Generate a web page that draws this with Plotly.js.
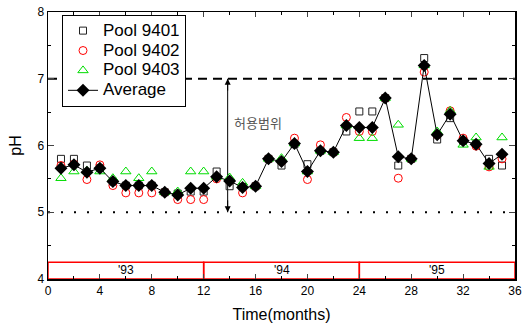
<!DOCTYPE html>
<html><head><meta charset="utf-8">
<script src="https://cdn.plot.ly/plotly-3.0.1.min.js"></script>
<style>html,body{margin:0;padding:0;background:#fff}#c{width:524px;height:329px}</style>
</head><body><div id="c"></div>
<script>
const months = [1,2,3,4,5,6,7,8,9,10,11,12,13,14,15,16,17,18,19,20,21,22,23,24,25,26,27,28,29,30,31,32,33,34,35];
const pool9401 = [5.80,5.80,5.70,5.66,5.46,5.40,5.40,5.40,5.30,5.28,5.31,5.31,5.61,5.39,5.38,5.39,5.80,5.70,6.02,5.72,5.92,5.90,6.21,6.51,6.51,6.71,5.70,5.80,7.31,6.09,6.41,6.07,6.02,5.80,5.70];
const pool9402 = [5.70,5.72,5.49,5.71,5.40,5.29,5.29,5.29,5.30,5.19,5.19,5.19,5.50,5.47,5.29,5.39,5.80,5.76,6.11,5.49,6.01,5.90,6.42,6.21,6.21,6.71,5.51,5.80,7.10,6.16,6.52,6.11,5.99,5.68,5.80];
const pool9403 = [5.51,5.61,5.62,5.61,5.51,5.61,5.51,5.61,5.30,5.31,5.61,5.61,5.53,5.52,5.44,5.39,5.80,5.81,6.03,5.61,5.92,5.90,6.30,6.11,6.11,6.71,6.31,5.80,7.20,6.21,6.52,6.01,6.12,5.68,6.12];
const average = [5.66,5.71,5.60,5.66,5.46,5.40,5.40,5.40,5.30,5.26,5.36,5.36,5.53,5.47,5.37,5.39,5.80,5.76,6.03,5.61,5.92,5.90,6.30,6.27,6.27,6.71,5.83,5.80,7.20,6.16,6.47,6.07,6.02,5.73,5.87];
const seriesNames = ["Pool 9401","Pool 9402","Pool 9403","Average"];
const yearLabels = ["'93","'94","'95"];
const yearStart = [0,12,24];
const yearEnd = [12,24,36];
const upperLimit = 7, lowerLimit = 5;
const rangeLabel = "허용범위";
const arrowX = 13.85;

const font = "Arial, 'Liberation Sans', sans-serif";
const lg = n => '<span style="font-size:17px">' + n + '</span>';
const traces = [
  {x: months, y: pool9401, name: lg(seriesNames[0]), mode: "markers", type: "scatter",
   marker: {symbol: "square-open", size: 7, color: "#222", line: {width: 1}}},
  {x: months, y: pool9402, name: lg(seriesNames[1]), mode: "markers", type: "scatter",
   marker: {symbol: "circle-open", size: 8, color: "#ff0000", line: {width: 1}}},
  {x: months, y: pool9403, name: lg(seriesNames[2]), mode: "markers", type: "scatter",
   marker: {symbol: "triangle-up-open", size: 9, color: "#00dd00", line: {width: 1}}},
  {x: months, y: average, name: lg(seriesNames[3]), mode: "lines+markers", type: "scatter",
   line: {color: "#000", width: 1}, marker: {symbol: "diamond", size: 10, color: "#000"}}
];

const shapes = [
  {type: "line", xref: "x", yref: "y", x0: 0, x1: 36, y0: upperLimit, y1: upperLimit,
   line: {color: "#000", width: 2, dash: "9px,6px"}, layer: "below"},
  {type: "line", xref: "x", yref: "y", x0: 0, x1: 36, y0: lowerLimit, y1: lowerLimit,
   line: {color: "#000", width: 2, dash: "2px,11px"}, layer: "below"},
  {type: "line", xref: "x", yref: "y", x0: arrowX, x1: arrowX, y0: lowerLimit, y1: upperLimit,
   line: {color: "#000", width: 1}, layer: "below"}
];
yearLabels.forEach((lab, i) => {
  shapes.push({type: "rect", xref: "x", yref: "y", x0: yearStart[i], x1: yearEnd[i], y0: 4, y1: 4.25,
    line: {color: "#ff0000", width: 1.5}, fillcolor: "rgba(0,0,0,0)", layer: "below"});
});

const annotations = [
  {x: arrowX, y: upperLimit, ax: arrowX, ay: upperLimit - 0.2, xref: "x", yref: "y", axref: "x", ayref: "y",
   showarrow: true, arrowhead: 2, arrowsize: 1.2, arrowwidth: 1, arrowcolor: "#000", text: ""},
  {x: arrowX, y: lowerLimit, ax: arrowX, ay: lowerLimit + 0.2, xref: "x", yref: "y", axref: "x", ayref: "y",
   showarrow: true, arrowhead: 2, arrowsize: 1.2, arrowwidth: 1, arrowcolor: "#000", text: ""},
  {x: 16.2, y: 6.34, xref: "x", yref: "y", text: rangeLabel, showarrow: false,
   font: {family: "'Noto Sans CJK KR', sans-serif", size: 13, color: "#555"}}
];
yearLabels.forEach((lab, i) => {
  annotations.push({x: (yearStart[i] + yearEnd[i]) / 2, y: 4.13, xref: "x", yref: "y", text: lab,
    showarrow: false, font: {family: font, size: 12, color: "#000"}});
});

const layout = {
  width: 524, height: 329,
  margin: {l: 48, r: 9, t: 12, b: 50},
  paper_bgcolor: "#fff", plot_bgcolor: "#fff",
  font: {family: font, size: 12, color: "#000"},
  showlegend: true,
  legend: {x: 0.03, y: 0.99, xanchor: "left", yanchor: "top", bgcolor: "#fff",
    bordercolor: "#000", borderwidth: 1, font: {family: font, size: 13}, tracegroupgap: 0},
  xaxis: {range: [0, 36], tickvals: [0,4,8,12,16,20,24,28,32,36], ticks: "inside", ticklen: 5,
    minor: {tickvals: [2,6,10,14,18,22,26,30,34], ticks: "inside", ticklen: 3, tickcolor: "#000"},
    showline: true, linecolor: "#000", linewidth: 1.5, mirror: "ticks", showgrid: false, zeroline: false,
    tickfont: {size: 12}, title: {text: "Time(months)", font: {size: 16}, standoff: 12}},
  yaxis: {range: [4, 8], tickvals: [4,5,6,7,8], ticks: "inside", ticklen: 6,
    minor: {tickvals: [4.5,5.5,6.5,7.5], ticks: "inside", ticklen: 3, tickcolor: "#000"},
    showline: true, linecolor: "#000", linewidth: 1.5, mirror: "ticks", showgrid: false, zeroline: false,
    tickfont: {size: 12}, title: {text: "pH", font: {size: 16}, standoff: 12}},
  shapes: shapes,
  annotations: annotations
};
Plotly.newPlot("c", traces, layout, {staticPlot: true, displayModeBar: false});
</script></body></html>
